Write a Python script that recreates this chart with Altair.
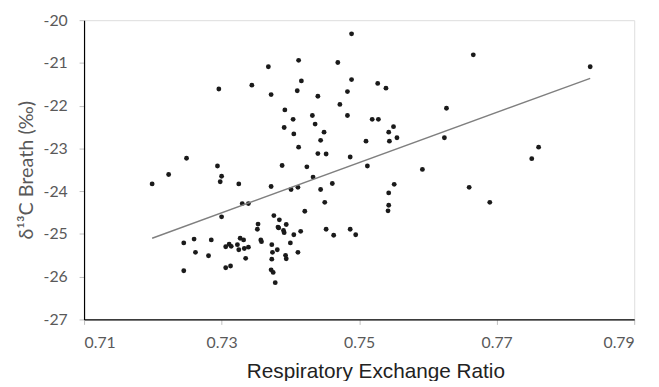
import altair as alt
import pandas as pd

rer = [0.7368, 0.7296, 0.7344, 0.7372, 0.7249, 0.7294, 0.7223, 0.7199, 0.7300, 0.7298,
       0.7325, 0.7372, 0.7330, 0.7339, 0.7300, 0.7376, 0.7353, 0.7352, 0.7245, 0.7260,
       0.7285, 0.7262, 0.7281, 0.7306, 0.7311, 0.7314, 0.7323, 0.7327, 0.7332, 0.7325,
       0.7333, 0.7339, 0.7335, 0.7357, 0.7358, 0.7373, 0.7374, 0.7373, 0.7372, 0.7375,
       0.7378, 0.7245, 0.7306, 0.7313, 0.7412, 0.7489, 0.7469, 0.7416, 0.7410, 0.7440,
       0.7489, 0.7483, 0.7527, 0.7539, 0.7392, 0.7404, 0.7391, 0.7405, 0.7412, 0.7432,
       0.7436, 0.7449, 0.7444, 0.7440, 0.7452, 0.7472, 0.7483, 0.7519, 0.7528, 0.7550,
       0.7543, 0.7555, 0.7544, 0.7510, 0.7487, 0.7627, 0.7624, 0.7388, 0.7424, 0.7512,
       0.7592, 0.7433, 0.7401, 0.7411, 0.7444, 0.7461, 0.7450, 0.7421, 0.7551, 0.7543,
       0.7543, 0.7542, 0.7384, 0.7382, 0.7383, 0.7394, 0.7390, 0.7391, 0.7405, 0.7415,
       0.7400, 0.7381, 0.7393, 0.7394, 0.7411, 0.7452, 0.7463, 0.7487, 0.7495, 0.7666,
       0.7836, 0.7761, 0.7751, 0.7660, 0.7690]

d13c = [-21.09, -21.61, -21.52, -21.74, -23.23, -23.41, -23.61, -23.83, -23.65, -23.78,
        -23.83, -23.89, -24.29, -24.29, -24.60, -24.57, -24.77, -24.89, -25.21, -25.12,
        -25.14, -25.43, -25.51, -25.30, -25.24, -25.29, -25.25, -25.10, -25.14, -25.37,
        -25.34, -25.31, -25.57, -25.14, -25.18, -25.25, -25.43, -25.59, -25.84, -25.90,
        -26.14, -25.86, -25.79, -25.75, -20.94, -20.32, -20.99, -21.42, -21.65, -21.78,
        -21.39, -21.67, -21.48, -21.59, -22.10, -22.32, -22.51, -22.66, -22.97, -22.23,
        -22.43, -22.62, -22.81, -23.12, -23.13, -21.97, -22.23, -22.32, -22.32, -22.49,
        -22.62, -22.75, -22.83, -22.83, -23.20, -22.06, -22.75, -23.40, -23.43, -23.41,
        -23.49, -23.67, -23.96, -23.91, -23.96, -23.82, -24.26, -24.47, -23.84, -24.04,
        -24.33, -24.46, -24.67, -24.84, -24.86, -24.78, -24.92, -24.97, -25.02, -24.94,
        -25.21, -25.37, -25.50, -25.58, -25.43, -24.89, -25.03, -24.89, -25.02, -20.81,
        -21.09, -22.97, -23.24, -23.91, -24.26]

x_ticks = [0.71, 0.73, 0.75, 0.77, 0.79]
y_ticks = [-27, -26, -25, -24, -23, -22, -21, -20]

df = pd.DataFrame({"rer": rer, "d13c": d13c})

x_enc = alt.X("rer:Q",
              scale=alt.Scale(domain=[0.71, 0.79], nice=False, zero=False),
              axis=alt.Axis(values=x_ticks, labelExpr="format(datum.value, '.2f')",
                            title="Respiratory Exchange Ratio", grid=False,
                            domainColor="#000000", domainWidth=1.2,
                            tickColor="#bfbfbf", tickSize=5,
                            labelFont="Lato", labelFontSize=16, labelColor="#595959",
                            labelPadding=10,
                            titleFont="Liberation Sans", titleFontSize=21,
                            titleFontWeight="normal", titleColor="#222222",
                            titleX=295, titleY=59, titleBaseline="alphabetic"))
y_enc = alt.Y("d13c:Q",
              scale=alt.Scale(domain=[-27, -20], nice=False, zero=False),
              axis=alt.Axis(values=y_ticks, labelExpr="'' + datum.value",
                            title="δ¹³C Breath (‰)", grid=False,
                            domainColor="#000000", domainWidth=1.2,
                            tickColor="#bfbfbf", tickSize=5,
                            labelFont="Lato", labelFontSize=16, labelColor="#595959",
                            labelPadding=12,
                            titleFont="Lato", titleFontSize=20,
                            titleFontWeight="normal", titleColor="#595959",
                            titlePadding=7))

points = alt.Chart(df).mark_circle(size=24, color="#1a1a1a", opacity=1).encode(
    x=x_enc, y=y_enc)

fit = alt.Chart(df).transform_regression("rer", "d13c").mark_line(
    color="#7f7f7f", strokeWidth=1.4).encode(x="rer:Q", y="d13c:Q")

chart = alt.layer(points, fit).properties(
    width=557, height=303,
    autosize=alt.AutoSizeParams(type="none"),
    padding={"left": 77, "top": 10, "right": 17, "bottom": 60},
).configure_view(stroke=None).configure(background="white")

chart.save("out.html", embed_options={"renderer": "svg", "actions": False})
